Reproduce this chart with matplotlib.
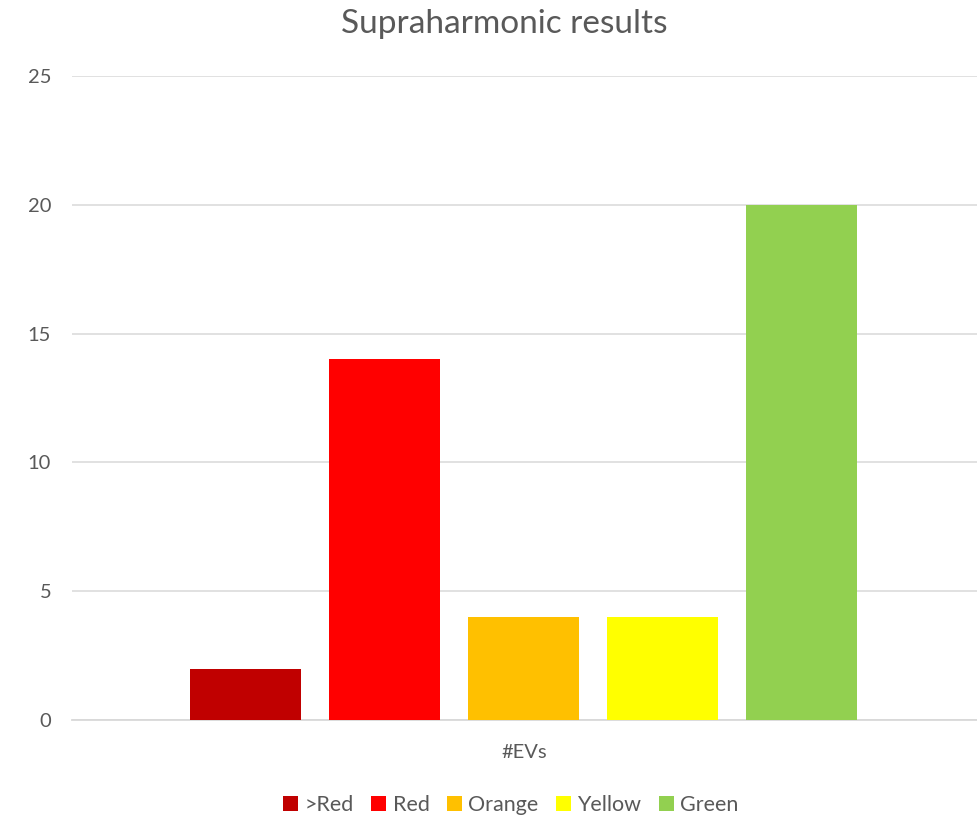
import matplotlib
matplotlib.use('Agg')

import numpy as np
import matplotlib.pyplot as plt
from matplotlib.patches import Patch

# data
categories = ['>Red', 'Red', 'Orange', 'Yellow', 'Green']
counts = [2, 14, 4, 4, 20]
colors = ['#C00000', '#FF0000', '#FFC000', '#FFFF00', '#92D050']
yticks = [0, 5, 10, 15, 20, 25]

plt.rcParams['font.family'] = ['Lato', 'DejaVu Sans']

fig = plt.figure(figsize=(9.77, 8.16), dpi=100)
ax = fig.add_axes([0.0737, 0.1176, 0.9263, 0.7893])

x = np.arange(len(categories))
ax.bar(x, counts, width=0.8, color=colors, zorder=3)

ax.set_xlim(-1.25, 5.26)
ax.set_ylim(0, 25)
ax.set_yticks(yticks)
ax.yaxis.grid(True, color='#D9D9D9', linewidth=1.1, zorder=0)
ax.tick_params(axis='y', length=0, labelsize=14.5, labelcolor='#595959', pad=15)
ax.set_xticks([2])
ax.set_xticklabels(['#EVs'])
ax.tick_params(axis='x', length=0, labelsize=14.5, labelcolor='#595959', pad=17)
for s in ['top', 'right', 'left']:
    ax.spines[s].set_visible(False)
ax.spines['bottom'].set_color('#D9D9D9')
ax.spines['bottom'].set_linewidth(1.3)

fig.text(0.516, 0.971, 'Supraharmonic results', ha='center', va='center',
         fontsize=24, color='#595959')

handles = [Patch(facecolor=c, edgecolor='none') for c in colors]
fig.legend(handles, categories, loc='center', bbox_to_anchor=(0.523, 0.014),
           ncol=5, frameon=False, fontsize=15.5, labelcolor='#595959',
           handlelength=0.7, handleheight=0.7, handletextpad=0.3,
           columnspacing=0.8)

fig.savefig('out.png', dpi=100)
